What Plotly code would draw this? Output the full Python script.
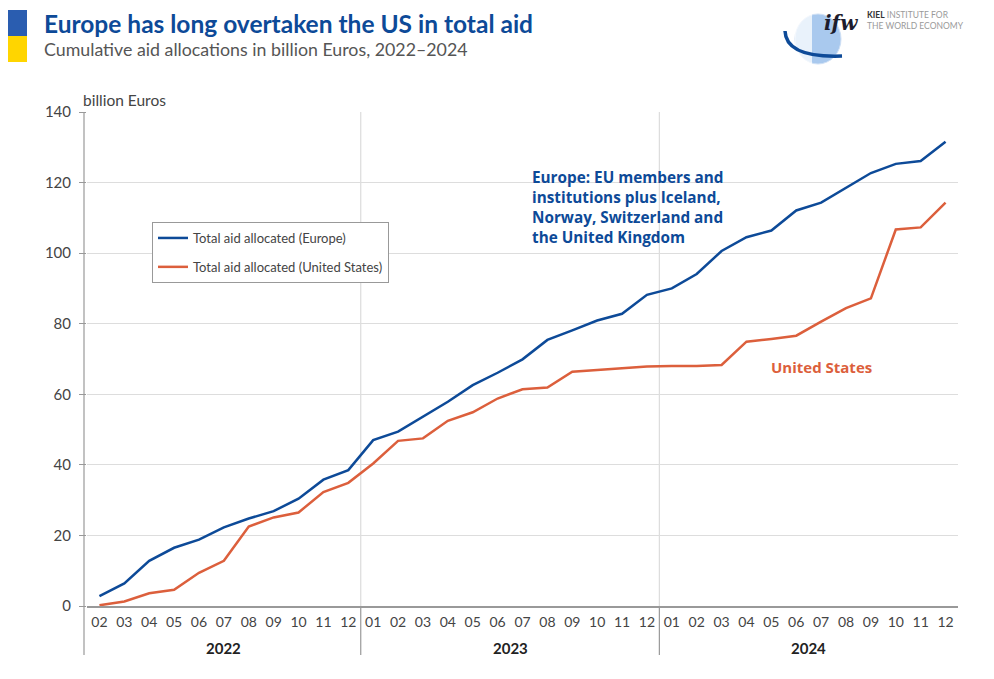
import plotly.graph_objects as go

# months shown on the x axis, grouped by year
year_labels = ["2022", "2023", "2024"]
months_2022 = ["02", "03", "04", "05", "06", "07", "08", "09", "10", "11", "12"]
months_full = ["01", "02", "03", "04", "05", "06", "07", "08", "09", "10", "11", "12"]
months = months_2022 + months_full + months_full
years = ["2022"] * 11 + ["2023"] * 12 + ["2024"] * 12
cats = [y + "-" + m for y, m in zip(years, months)]

# cumulative aid allocations, billion euros
europe = [2.8, 6.4, 12.8, 16.5, 18.8, 22.3, 24.8, 26.9, 30.4, 35.8, 38.5,
          47.0, 49.4, 53.6, 57.9, 62.6, 66.1, 69.9, 75.4, 78.1, 80.9, 82.8, 88.2,
          90.0, 94.1, 100.6, 104.5, 106.4, 112.1, 114.3, 118.6, 122.7, 125.3, 126.1, 131.6]
usa = [0.2, 1.3, 3.6, 4.6, 9.4, 12.8, 22.5, 25.1, 26.5, 32.3, 34.9,
       40.4, 46.8, 47.5, 52.5, 54.9, 58.8, 61.4, 61.9, 66.4, 66.9, 67.4, 67.9,
       68.0, 68.0, 68.3, 74.9, 75.7, 76.6, 80.6, 84.4, 87.2, 106.7, 107.3, 114.3]

blue = "#0d4a98"
red = "#dc5f3c"
font = "Lato"

# page offset of the figure (body margin) and plot area, in screen pixels
OFF = 8
FW, FH = 994 - OFF, 679 - OFF
X0, X1, Y0, Y1 = 87, 958, 112, 606
L, R, T, B = X0 - OFF, FW - (X1 - OFF), Y0 - OFF, FH - (Y1 - OFF)
W, H = X1 - X0, Y1 - Y0


def px(x):
    return (x - X0) / W


def py(y):
    return (Y1 - y) / H


fig = go.Figure()
fig.add_trace(go.Scatter(x=cats, y=europe, mode="lines",
                         name="Total aid allocated (Europe)", legendgroup="eu",
                         line=dict(color=blue, width=2.5)))
fig.add_trace(go.Scatter(x=cats, y=usa, mode="lines",
                         name="Total aid allocated (United States)", legendgroup="us",
                         line=dict(color=red, width=2.5)))

# year separators: light inside the plot, darker below the axis
for i, yr in enumerate(year_labels):
    idx = [k for k, v in enumerate(years) if v == yr]
    first, last = idx[0], idx[-1]
    if i > 0:
        fig.add_shape(type="line", xref="x", yref="paper", x0=first - 0.5, x1=first - 0.5,
                      y0=0, y1=1, line=dict(color="#dcdcdc", width=1.2), layer="below")
        fig.add_shape(type="line", xref="x", yref="paper", x0=first - 0.5, x1=first - 0.5,
                      y0=py(655), y1=0, line=dict(color="#999999", width=1.2))
    fig.add_annotation(text="<b>" + yr + "</b>", xref="x", yref="paper",
                       x=(first + last) / 2, y=py(648), yanchor="middle", showarrow=False,
                       font=dict(family=font, size=15, color="#222222"))

# y axis line continues down past the labels
fig.add_shape(type="line", xref="paper", yref="paper", x0=px(84), x1=px(84),
              y0=py(655), y1=1, line=dict(color="#999999", width=1.2))

# Ukrainian flag
fig.add_shape(type="rect", xref="paper", yref="paper", x0=px(OFF), x1=px(27),
              y0=py(36), y1=py(10), fillcolor="#2a5db0", line=dict(width=0))
fig.add_shape(type="rect", xref="paper", yref="paper", x0=px(OFF), x1=px(27),
              y0=py(62), y1=py(36), fillcolor="#ffd500", line=dict(width=0))

# rough globe logo
fig.add_shape(type="circle", xref="paper", yref="paper",
              x0=px(795), x1=px(841), y0=py(64), y1=py(14),
              fillcolor="#a9c9ee", line=dict(color="#cfe0f5", width=1))
fig.add_shape(type="rect", xref="paper", yref="paper",
              x0=px(795), x1=px(812), y0=py(64), y1=py(14),
              fillcolor="rgba(255,255,255,0.75)", line=dict(width=0))
fig.add_shape(type="path", xref="paper", yref="paper",
              path="M %f,%f Q %f,%f %f,%f" % (px(785), py(31), px(786), py(58), px(842), py(56)),
              line=dict(color=blue, width=3.5))
fig.add_annotation(text="<b><i>ifw</i></b>", xref="paper", yref="paper",
                   x=px(823), y=py(23), xanchor="left", yanchor="middle", borderpad=0,
                   showarrow=False, font=dict(family="DejaVu Serif", size=20, color="#1c1c2c"))
fig.add_annotation(text="<b style='color:#333'>KIEL</b> INSTITUTE FOR<br>THE WORLD ECONOMY",
                   xref="paper", yref="paper", x=px(865), y=py(20), xanchor="left", yanchor="middle",
                   align="left", showarrow=False,
                   font=dict(family=font, size=8.5, color="#9a9a9a"))

# titles
fig.add_annotation(text="<b>Europe has long overtaken the US in total aid</b>", xref="paper", yref="paper",
                   x=px(42), y=py(23), xanchor="left", yanchor="middle",
                   showarrow=False, font=dict(family=font, size=24.5, color=blue))
fig.add_annotation(text="Cumulative aid allocations in billion Euros, 2022\u20132024", xref="paper", yref="paper",
                   x=px(42), y=py(49), xanchor="left", yanchor="middle",
                   showarrow=False, font=dict(family=font, size=17.8, color="#555555"))
fig.add_annotation(text="billion Euros", xref="paper", yref="paper",
                   x=px(81), y=py(100), xanchor="left", yanchor="middle",
                   showarrow=False, font=dict(family=font, size=15.5, color="#444444"))

# series labels
fig.add_annotation(text="<b>Europe: EU members and<br>institutions plus Iceland,<br>Norway, Switzerland and<br>the United Kingdom</b>",
                   xref="paper", yref="paper", x=px(530), y=py(165),
                   xanchor="left", yanchor="top", align="left", showarrow=False,
                   font=dict(family="Open Sans", size=15.3, color=blue))
fig.add_annotation(text="<b>United States</b>", xref="paper", yref="paper",
                   x=px(769), y=py(367), xanchor="left", yanchor="middle",
                   showarrow=False, font=dict(family="Open Sans", size=15, color=red))

fig.update_layout(
    width=FW, height=FH,
    margin=dict(l=L, r=R, t=T, b=B),
    paper_bgcolor="white", plot_bgcolor="white",
    font=dict(family=font, color="#444444"),
    showlegend=True,
    legend=dict(x=px(152), y=py(222), xanchor="left", yanchor="top",
                bordercolor="#999999", borderwidth=1, bgcolor="white",
                font=dict(family=font, size=13, color="#444444"),
                traceorder="grouped", tracegroupgap=9, itemwidth=30),
    xaxis=dict(type="category", categoryorder="array", categoryarray=cats,
               tickvals=cats, ticktext=months, range=[-0.5, len(cats) - 0.5],
               showline=True, linecolor="#999999", linewidth=1.5, automargin=False,
               showgrid=False, ticks="", ticklabelstandoff=2,
               tickfont=dict(family=font, size=14, color="#444444")),
    yaxis=dict(range=[0, 140], dtick=20, showgrid=True, gridcolor="#dddddd", gridwidth=1,
               showline=False, ticks="outside", ticklabelstandoff=5,
               ticklen=7, tickcolor="#999999", zeroline=False, automargin=False,
               tickfont=dict(family=font, size=15, color="#444444")),
)

fig.write_html("out.html")
